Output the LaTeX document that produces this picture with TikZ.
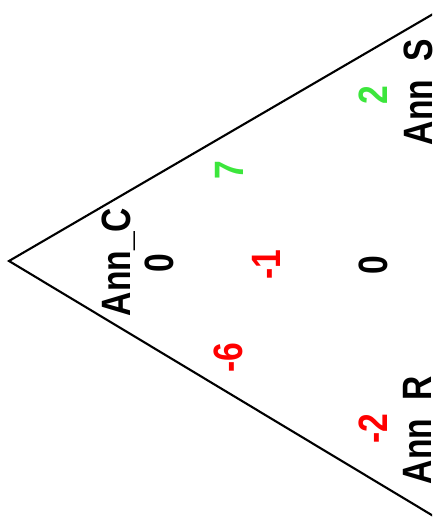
\documentclass[tikz,border=0pt]{standalone}
\usepackage{fontspec}
\setmainfont{Liberation Sans}
\definecolor{vgreen}{RGB}{60,230,60}
\definecolor{vred}{RGB}{255,0,0}
\begin{document}
\begin{tikzpicture}[x=1pt,y=1pt,
  lab/.style={rotate=90, anchor=base, inner sep=0pt, text=black,
    font=\bfseries\fontsize{41}{41}\selectfont},
  cnt/.style={lab},
  edge/.style={line width=2.1pt, line join=miter}]
\useasboundingbox (0,0) rectangle (432,526);
\clip (0,0) rectangle (432,526);
\coordinate (apex) at (9,265);
\coordinate (upper) at (440,516);
\coordinate (lower) at (440,6);
\draw[edge] (upper) -- (apex) -- (lower);
\newcommand{\sq}[1]{\scalebox{0.82}[1]{#1}}
\node[lab] (annC) at (130,264) {\sq{Ann\_C}};
\node[lab] (annS) at (432,434) {\sq{Ann\_S}};
\node[lab] (annR) at (431,96) {\sq{Ann\_R}};
\node[cnt] (c0) at (173,263) {\sq{0}};
\node[cnt, text=vgreen] (cs) at (243,356) {\sq{7}};
\node[cnt, text=vred] (csr) at (280,261) {\sq{-1}};
\node[cnt] (cmid) at (387,261) {\sq{0}};
\node[cnt, text=vgreen] (s0) at (387,431) {\sq{2}};
\node[cnt, text=vred] (cr) at (242,168) {\sq{-6}};
\node[cnt, text=vred] (r0) at (387,97) {\sq{-2}};
\end{tikzpicture}
\end{document}
